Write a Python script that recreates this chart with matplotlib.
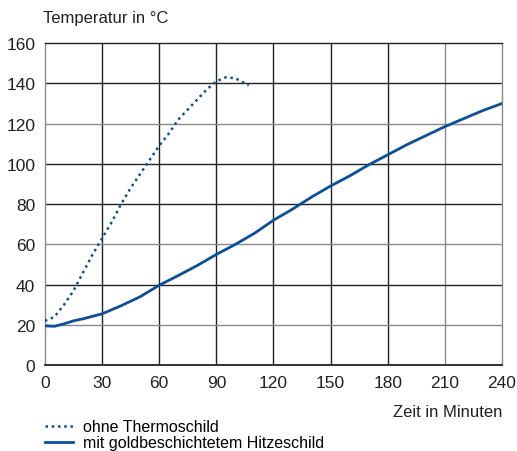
## Temperaturverlauf mit/ohne Thermoschild
import matplotlib
matplotlib.use("Agg")
import matplotlib.pyplot as plt

plt.rcParams['font.family'] = ['Liberation Sans', 'DejaVu Sans']

## Daten
t_ohne = [0, 5, 10, 15, 20, 25, 30, 35, 40, 45, 50, 55, 60, 65, 70,
          75, 80, 85, 90, 95, 100, 105, 107]
temp_ohne = [22, 24, 30, 37, 46, 55, 63, 71, 80, 88, 95, 102, 109, 115,
             122, 127, 132, 137, 141, 143, 142.5, 140, 139]

t_mit = [0, 5, 10, 15, 20, 30, 40, 50, 60, 70, 80, 90, 100, 110, 120,
         130, 140, 150, 160, 170, 180, 190, 200, 210, 220, 230, 240]
temp_mit = [19.5, 19.3, 20.5, 22, 23, 25.5, 29.5, 34, 39.7, 44.5, 49.5,
            55, 60, 65.5, 72, 77.5, 83.5, 89, 94, 99.5, 104.5, 109.5, 114,
            118.5, 122.5, 126.5, 130]

x_ticks = [0, 30, 60, 90, 120, 150, 180, 210, 240]
y_ticks = [0, 20, 40, 60, 80, 100, 120, 140, 160]
labels = ["ohne Thermoschild", "mit goldbeschichtetem Hitzeschild"]

BLUE = "#0b4f9c"
DARK = "#222222"
GRAY = "#8a8a8a"

fig = plt.figure(figsize=(5.17, 4.52), dpi=100)
ax = fig.add_axes([0.087, 0.19, 0.884, 0.7125])

## Gitter (einige Linien heller wie im Original)
for x in x_ticks[1:-1]:
    ax.axvline(x, color=GRAY if x == 210 else DARK, lw=1.0, zorder=1)
for y in y_ticks[1:-1]:
    ax.axhline(y, color=GRAY if y in (20, 60, 120) else DARK, lw=1.0, zorder=1)

l1, = ax.plot(t_ohne, temp_ohne, color=BLUE, lw=1.8,
              linestyle=(0, (1, 1.5)), dash_capstyle='butt', zorder=3)
l2, = ax.plot(t_mit, temp_mit, color=BLUE, lw=2.0, zorder=3)

ax.set_xlim(0, 240)
ax.set_ylim(0, 160)
ax.set_xticks(x_ticks)
ax.set_yticks(y_ticks)
ax.tick_params(length=0, labelsize=12.5, pad=7, colors="#222222")

for side, sp in ax.spines.items():
    sp.set_color(DARK if side in ("top", "bottom") else GRAY)
    sp.set_linewidth(1.3 if side == "bottom" else 1.0)

fig.text(0.083, 0.96, "Temperatur in °C", fontsize=12, va="center",
         ha="left", color="#222222")
fig.text(0.971, 0.088, "Zeit in Minuten", fontsize=12, va="center",
         ha="right", color="#222222")

## Legende unten links
fig.legend([l1, l2], labels, loc="upper left", bbox_to_anchor=(0.088, 0.07),
           frameon=False, fontsize=11.5, handlelength=1.75, handletextpad=0.6,
           labelspacing=0.05, borderaxespad=0, borderpad=0)

fig.savefig("out.png", dpi=100)
